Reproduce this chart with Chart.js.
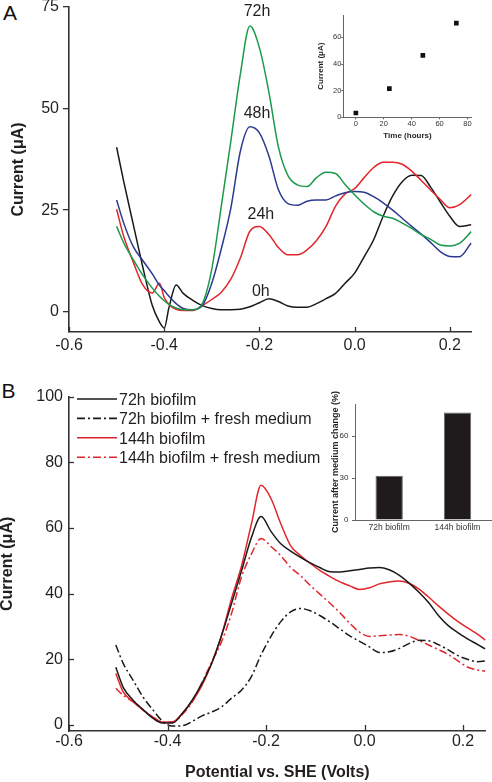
<!DOCTYPE html>
<html>
<head>
<meta charset="utf-8">
<title>Biofilm voltammetry</title>
<script src="https://cdn.jsdelivr.net/npm/chart.js@4.4.1/dist/chart.umd.min.js"></script>
<style>
    html, body { margin: 0; padding: 0; background: #fff; }
    #figure { position: relative; width: 492px; height: 782px; overflow: hidden; font-family: 'Liberation Sans', Arial, sans-serif; }
    #figure canvas { position: absolute; }
    .panel-letter { position: absolute; font-size: 21px; line-height: 1; color: #111; }
</style>
</head>
<body>
<div id="figure">
    <div class="panel-letter" style="left:3px;top:2px">A</div>
    <div class="panel-letter" style="left:1.5px;top:380px">B</div>
    <canvas id="chart-a" width="492" height="360" style="left:0;top:0"></canvas>
    <canvas id="inset-a" width="182" height="140" style="left:310px;top:5px"></canvas>
    <canvas id="chart-b" width="492" height="422" style="left:0;top:360px"></canvas>
    <canvas id="inset-b" width="172" height="160" style="left:320px;top:380px"></canvas>
</div>
<script>
// ---- Panel A: growth of the biofilm (0h .. 72h) ----
const potentialA = [-0.50, -0.485, -0.465, -0.445, -0.425, -0.41, -0.40, -0.39, -0.375, -0.36,
    -0.34, -0.32, -0.30, -0.28, -0.26, -0.24, -0.22, -0.20, -0.18, -0.16,
    -0.14, -0.12, -0.10, -0.08, -0.06, -0.04, -0.02, 0.00, 0.02, 0.04,
    0.06, 0.08, 0.10, 0.12, 0.14, 0.16, 0.18, 0.20, 0.22, 0.245];
const current0h = [40.5, 32, 21.5, 11, 1.5, -2.5, -4, 1, 6.6, 4.5,
    2.8, 1.5, 0.8, 0.5, 0.5, 0.6, 1.2, 2.2, 3.2, 2.5,
    1.4, 1.1, 1.1, 2, 3.2, 4.5, 7, 9.5, 13.5, 17.7,
    23.5, 28.5, 32, 33.6, 33.5, 30.6, 27, 23.5, 21, 21.4];
const current24h = [25.2, 18.5, 12.2, 6.6, 4.6, 7, 3.5, 1.8, 0.6, 0.3,
    0.3, 1.5, 3, 4.8, 8, 13.2, 19.8, 21, 19, 15.8,
    14, 14, 15.2, 17.5, 21, 26, 29, 30.3, 33, 35.5,
    36.8, 36.8, 36.3, 34.6, 32.3, 29.9, 27.6, 25.6, 26.3, 28.8];
const current48h = [27.5, 21.8, 16, 12.6, 9.3, 6.5, 5.2, 3.8, 2, 0.8,
    0.5, 1.5, 7, 15.5, 25.5, 39.5, 45.5, 44, 38.3, 30,
    26.6, 26.2, 27.2, 27.5, 27.5, 28.5, 29.3, 29.6, 29.4, 28.3,
    26.8, 25, 23, 21, 19.1, 17, 14.8, 13.6, 13.5, 16.9];
const current72h = [21, 16.9, 12.8, 9, 5.8, 3.8, 2.7, 1.8, 0.9, 0.5,
    0.5, 2, 10.5, 26, 42, 58.5, 70.3, 65, 54, 40.5,
    33.5, 31.2, 30.8, 33, 34.3, 34, 31.3, 28.8, 26.5, 24.6,
    23.5, 23, 21.8, 20.5, 19, 17.8, 16.4, 16.2, 16.8, 19.7];
const hourTags = ['72h', '48h', '24h', '0h'];

// inset A: peak current against biofilm age
const growthHours = [0, 24, 48, 72];
const growthCurrent = [3.2, 21.5, 46.5, 70.7];

// ---- Panel B: medium change on 72h and 144h biofilms ----
const potentialB = [-0.505, -0.49, -0.47, -0.45, -0.43, -0.41, -0.39, -0.37, -0.35, -0.33,
    -0.31, -0.29, -0.27, -0.25, -0.23, -0.21, -0.19, -0.17, -0.15, -0.13,
    -0.11, -0.09, -0.07, -0.05, -0.03, -0.01, 0.01, 0.03, 0.05, 0.07,
    0.09, 0.11, 0.13, 0.15, 0.17, 0.19, 0.21, 0.23, 0.245];
const biofilm72 = [17.6, 11.5, 7.6, 4.8, 2.1, 0.6, 0.6, 3.5, 7.6, 12.7,
    18.9, 27.4, 37, 46.8, 57, 63.5, 59, 55.2, 53, 51.1,
    49.4, 47.9, 46.7, 46.6, 47, 47.4, 47.8, 48, 47.3, 45.7,
    43.3, 40.5, 37.3, 33.4, 30.3, 28.1, 26.2, 24.5, 23.2];
const biofilm72Fresh = [24.4, 18.8, 13.7, 8.6, 4.7, 1.2, -0.3, -0.2, 1.1, 2.8,
    4, 5.6, 8.2, 10.6, 14.7, 21.4, 27, 31.5, 34.5, 35.5,
    34.8, 33.3, 31.4, 29.3, 27.2, 25.5, 23.8, 22.1, 22.3, 23.3,
    24.8, 25.8, 25.7, 24.5, 22.9, 21.1, 20, 19.3, 19.5];
const biofilm144 = [15.7, 10.1, 7.1, 4.6, 2.5, 0.9, 1, 3.6, 7.2, 12.1,
    19, 27.5, 38.5, 48.3, 61, 73, 69, 61.3, 54.6, 51.6,
    49.2, 47, 45.2, 43.6, 42.4, 41.3, 41.8, 43, 43.6, 43.9,
    43.2, 41.5, 39, 36.3, 33.8, 31.5, 29.5, 27.6, 25.9];
const biofilm144Fresh = [11.2, 9.1, 7.1, 4.6, 2.5, 0.8, 0.8, 3.2, 7, 13,
    19.3, 25.5, 34, 45, 52, 56.8, 54.4, 51.6, 48, 45.5,
    42.5, 39.8, 37.1, 34.2, 31, 28.3, 27, 27.2, 27.4, 27.6,
    27.1, 25.8, 24.4, 23, 21.5, 19.5, 17.6, 16.8, 16.4];

// inset B: current kept after the medium change
const biofilmAges = ['72h biofilm', '144h biofilm'];
const retainedCurrent = [31.6, 76.9];

// tick values
const potentialTicks = [-0.6, -0.4, -0.2, 0.0, 0.2];
const currentTicksA = [0, 25, 50, 75];
const currentTicksB = [0, 20, 40, 60, 80, 100];
const hourTicks = [0, 20, 40, 60, 80];
const growthTicks = [0, 20, 40, 60];
const retainedTicks = [0, 30, 60];

const FONT = "'Liberation Sans', Arial, Helvetica, sans-serif";
const AXIS = '#333';
const INK = '#231f20';
Chart.defaults.font.family = FONT;
Chart.defaults.color = INK;

function toPoints(xs, ys) {
    return xs.map((x, i) => ({ x: x, y: ys[i] }));
}

// keep the axis boxes at fixed sizes so the plot areas land where they should
function fixedWidth(w) {
    return function(scale) { scale.width = w; scale.paddingTop = 0; scale.paddingBottom = 0; };
}
function fixedHeight(h) {
    return function(scale) { scale.height = h; scale.paddingLeft = 0; scale.paddingRight = 0; };
}
function tickValues(values) {
    return function(scale) { scale.ticks = values.map(v => ({ value: v })); };
}

function curve(label, xs, ys, color, dash) {
    return {
        label: label,
        data: toPoints(xs, ys),
        borderColor: color,
        borderWidth: 1.5,
        borderDash: dash || [],
        pointRadius: 0,
        fill: false,
        cubicInterpolationMode: 'monotone'
    };
}

// tick marks pointing into the plot
const innerTicks = {
    id: 'innerTicks',
    afterDraw(chart, args, opts) {
        const ctx = chart.ctx;
        ctx.save();
        ctx.strokeStyle = AXIS;
        ctx.lineWidth = 1.3;
        ['x', 'y'].forEach(id => {
            const len = opts[id];
            const scale = chart.scales[id];
            if (!len || !scale) return;
            scale.ticks.forEach(t => {
                const p = Math.round(scale.getPixelForValue(t.value)) + 0.5;
                ctx.beginPath();
                if (id === 'x') {
                    ctx.moveTo(p, scale.top);
                    ctx.lineTo(p, scale.top - len);
                } else {
                    ctx.moveTo(scale.right, p);
                    ctx.lineTo(scale.right + len, p);
                }
                ctx.stroke();
            });
        });
        ctx.restore();
    }
};

// "72h", "48h" ... written above each peak
const peakTags = {
    id: 'peakTags',
    afterDatasetsDraw(chart, args, opts) {
        const ctx = chart.ctx;
        const xs = chart.scales.x, ys = chart.scales.y;
        ctx.save();
        ctx.font = '16px ' + FONT;
        ctx.fillStyle = INK;
        ctx.textAlign = 'center';
        ctx.textBaseline = 'alphabetic';
        opts.tags.forEach((tag, i) => {
            ctx.fillText(tag, xs.getPixelForValue(opts.at[i][0]), ys.getPixelForValue(opts.at[i][1]));
        });
        ctx.restore();
    }
};

// legend drawn inside panel B, top left
const lineLegend = {
    id: 'lineLegend',
    afterDraw(chart, args, opts) {
        const ctx = chart.ctx;
        ctx.save();
        ctx.font = '16px ' + FONT;
        ctx.textBaseline = 'alphabetic';
        chart.data.datasets.forEach((ds, i) => {
            const y = opts.top + i * opts.step;
            ctx.strokeStyle = ds.borderColor;
            ctx.lineWidth = 1.6;
            ctx.setLineDash(ds.borderDash);
            ctx.beginPath();
            ctx.moveTo(opts.left, y);
            ctx.lineTo(opts.left + opts.length, y);
            ctx.stroke();
            ctx.setLineDash([]);
            ctx.fillStyle = INK;
            ctx.fillText(ds.label, opts.left + opts.length + 2, y + 5.7);
        });
        ctx.restore();
    }
};

const noChrome = { legend: { display: false }, tooltip: { enabled: false } };
const dashDot = [8, 3, 2, 3];

// Panel A
new Chart(document.getElementById('chart-a'), {
    type: 'line',
    data: {
        datasets: [
            curve('72h', potentialA, current72h, '#1b9a4b'),
            curve('48h', potentialA, current48h, '#2b3990'),
            curve('24h', potentialA, current24h, '#e2262b'),
            curve('0h', potentialA, current0h, '#1a1a1a')
        ]
    },
    options: {
        responsive: false,
        animation: false,
        layout: { padding: { top: 7, right: 20.3, left: 0, bottom: 0 } },
        plugins: {
            ...noChrome,
            innerTicks: { x: 5 },
            peakTags: { tags: hourTags, at: [[-0.205, 72.7], [-0.205, 47.8], [-0.197, 22.7], [-0.197, 3.9]] }
        },
        scales: {
            x: {
                type: 'linear',
                min: -0.6,
                max: 0.246,
                afterBuildTicks: tickValues(potentialTicks),
                afterFit: fixedHeight(28),
                grid: { display: false, drawTicks: false },
                border: { color: AXIS, width: 1.6 },
                ticks: { padding: 4, font: { size: 16 }, callback: v => v.toFixed(1) }
            },
            y: {
                min: -5,
                max: 75,
                afterBuildTicks: tickValues(currentTicksA),
                afterFit: fixedWidth(69),
                grid: { drawOnChartArea: false, tickLength: 6, color: AXIS, lineWidth: 1.3 },
                border: { color: AXIS, width: 1.6 },
                ticks: { padding: 4, font: { size: 16 } },
                title: {
                    display: true,
                    text: 'Current (μA)',
                    font: { size: 16, weight: 'bold' },
                    padding: { top: 9, bottom: 0 }
                }
            }
        }
    },
    plugins: [innerTicks, peakTags]
});

// Inset A
new Chart(document.getElementById('inset-a'), {
    type: 'scatter',
    data: {
        datasets: [{
            data: toPoints(growthHours, growthCurrent),
            pointStyle: 'rect',
            pointRadius: 3.3,
            backgroundColor: '#111',
            borderWidth: 0
        }]
    },
    options: {
        responsive: false,
        animation: false,
        layout: { padding: { top: 10, right: 20.3, left: 0, bottom: 0 } },
        plugins: noChrome,
        scales: {
            x: {
                type: 'linear',
                min: -9,
                max: 83,
                afterBuildTicks: tickValues(hourTicks),
                afterFit: fixedHeight(27.7),
                grid: { drawOnChartArea: false, tickLength: 2, color: '#666' },
                border: { color: '#666', width: 1 },
                ticks: { padding: 0, font: { size: 7.5 }, color: '#333' },
                title: {
                    display: true,
                    text: 'Time (hours)',
                    font: { size: 8, weight: 'bold' },
                    padding: { top: 0, bottom: 4.5 }
                }
            },
            y: {
                min: 0,
                max: 76.8,
                afterBuildTicks: tickValues(growthTicks),
                afterFit: fixedWidth(33.3),
                grid: { drawOnChartArea: false, tickLength: 2, color: '#666' },
                border: { color: '#666', width: 1 },
                ticks: { padding: 0, font: { size: 7.5 }, color: '#333' },
                title: {
                    display: true,
                    text: 'Current (μA)',
                    font: { size: 8, weight: 'bold' },
                    padding: { top: 5.5, bottom: 0 }
                }
            }
        }
    }
});

// Panel B
new Chart(document.getElementById('chart-b'), {
    type: 'line',
    data: {
        datasets: [
            curve('72h biofilm', potentialB, biofilm72, '#1a1a1a'),
            curve('72h biofilm + fresh medium', potentialB, biofilm72Fresh, '#1a1a1a', dashDot),
            curve('144h biofilm', potentialB, biofilm144, '#e0262d'),
            curve('144h biofilm + fresh medium', potentialB, biofilm144Fresh, '#e0262d', dashDot)
        ]
    },
    options: {
        responsive: false,
        animation: false,
        layout: { padding: { top: 36.7, right: 6.3, left: 0, bottom: 0 } },
        plugins: {
            ...noChrome,
            innerTicks: { x: 6, y: 5 },
            lineLegend: { left: 77, top: 39, step: 19.4, length: 40 }
        },
        scales: {
            x: {
                type: 'linear',
                min: -0.6,
                max: 0.246,
                afterBuildTicks: tickValues(potentialTicks),
                afterFit: fixedHeight(51),
                grid: { display: false, drawTicks: false },
                border: { color: AXIS, width: 1.6 },
                ticks: { padding: 1, font: { size: 16 }, callback: v => v.toFixed(1) },
                title: {
                    display: true,
                    text: 'Potential vs. SHE (Volts)',
                    font: { size: 16, weight: 'bold' },
                    padding: { top: 0, bottom: 0 }
                }
            },
            y: {
                min: -1.8,
                max: 100,
                afterBuildTicks: tickValues(currentTicksB),
                afterFit: fixedWidth(69),
                grid: { display: false, drawTicks: false },
                border: { color: AXIS, width: 1.6 },
                ticks: { padding: 6, font: { size: 16 } },
                title: {
                    display: true,
                    text: 'Current (μA)',
                    font: { size: 16, weight: 'bold', lineHeight: 1 },
                    padding: { top: 0, bottom: 0 }
                }
            }
        }
    },
    plugins: [innerTicks, lineLegend]
});

// Inset B (canvas starts higher so the long axis title fits)
new Chart(document.getElementById('inset-b'), {
    type: 'bar',
    data: {
        labels: biofilmAges,
        datasets: [{
            data: retainedCurrent,
            backgroundColor: '#1f1b1c',
            borderColor: '#666',
            borderWidth: 1,
            barPercentage: 0.4,
            categoryPercentage: 1
        }]
    },
    options: {
        responsive: false,
        animation: false,
        layout: { padding: { top: 24, right: 0.3, left: 0, bottom: 0 } },
        plugins: noChrome,
        scales: {
            x: {
                afterFit: fixedHeight(20),
                grid: { display: false, drawTicks: false },
                border: { color: '#666', width: 1 },
                ticks: { padding: 3, font: { size: 8.5 }, color: '#333' }
            },
            y: {
                min: 0,
                max: 83,
                afterBuildTicks: tickValues(retainedTicks),
                afterFit: fixedWidth(35),
                grid: { drawOnChartArea: false, tickLength: 3, color: '#666' },
                border: { color: '#666', width: 1 },
                ticks: { padding: 3.5, font: { size: 8 }, color: '#333' },
                title: {
                    display: true,
                    text: 'Current after medium change (%)',
                    font: { size: 9, weight: 'bold' },
                    padding: { top: 10, bottom: 0 }
                }
            }
        }
    }
});
</script>
</body>
</html>
